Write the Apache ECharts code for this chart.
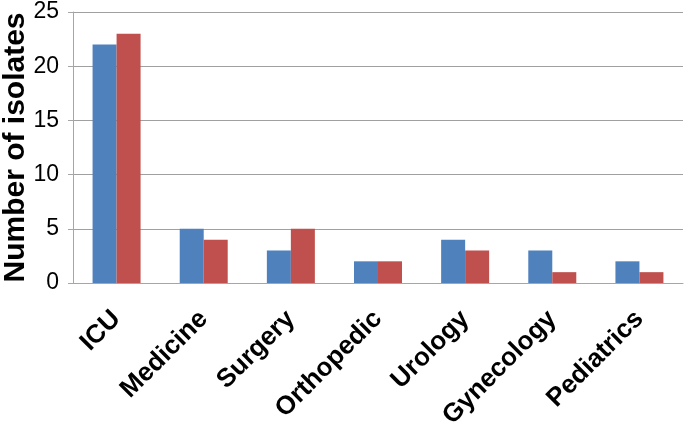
<!DOCTYPE html>
<html><head><meta charset="utf-8">
<script src="https://cdn.jsdelivr.net/npm/echarts@6/dist/echarts.min.js"></script>
<style>html,body{margin:0;padding:0;background:#fff}#c{width:685px;height:430px}</style>
</head><body><div id="c"></div>
<script>
const categories = ['ICU','Medicine','Surgery','Orthopedic','Urology','Gynecology','Pediatrics'];
const seriesA = [22,5,3,2,4,3,2];
const seriesB = [23,4,5,2,3,1,1];
const yTicks = {min:0, max:25, interval:5};
const FONT = '"Liberation Sans", Arial, sans-serif';
const chart = echarts.init(document.getElementById('c'), null, {renderer:'canvas'});
chart.setOption({
  animation:false,
  backgroundColor:'#ffffff',
  grid:{left:73, right:2, top:12, bottom:147, containLabel:false, outerBoundsMode:'none'},
  xAxis:{
    type:'category', data:categories,
    axisLine:{show:true, lineStyle:{color:'#a6a6a6', width:1}},
    axisTick:{show:false},
    axisLabel:{rotate:45, interval:0, margin:32, verticalAlign:'middle', color:'#000', fontWeight:'bold', fontSize:26, fontFamily:FONT}
  },
  yAxis:{
    type:'value', min:yTicks.min, max:yTicks.max, interval:yTicks.interval,
    name:'Number of isolates', nameLocation:'middle', nameRotate:90, nameGap:42, nameMoveOverlap:false,
    nameTextStyle:{color:'#000', fontWeight:'bold', fontSize:30, fontFamily:FONT},
    axisLine:{show:true, lineStyle:{color:'#a6a6a6', width:1}},
    axisTick:{show:true, length:5, lineStyle:{color:'#a6a6a6'}},
    axisLabel:{color:'#000', fontSize:23, margin:14, fontFamily:FONT},
    splitLine:{show:true, lineStyle:{color:'#a0a0a0', width:1}}
  },
  series:[
    {type:'bar', data:seriesA, barWidth:24, barGap:'0%', itemStyle:{color:'#4f81bd'}},
    {type:'bar', data:seriesB, barWidth:24, barGap:'0%', itemStyle:{color:'#c0504d'}}
  ]
});
</script></body></html>
